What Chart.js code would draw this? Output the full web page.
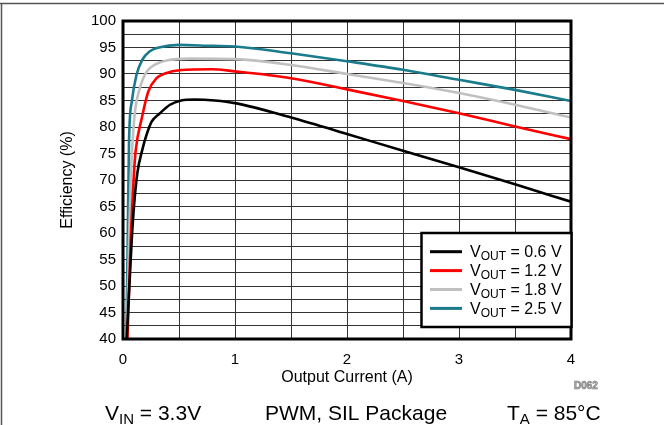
<!DOCTYPE html>
<html>
<head>
<meta charset="utf-8">
<script src="https://cdn.jsdelivr.net/npm/chart.js@4.4.0/dist/chart.umd.min.js"></script>
<style>
  html, body { margin: 0; padding: 0; background: #fff; }
</style>
</head>
<body>
<canvas id="effChart" width="664" height="425"></canvas>
<script>
// Output current (A) and efficiency (%)
const current06 = [0.033, 0.063, 0.078, 0.098, 0.128, 0.17, 0.21, 0.256, 0.33, 0.42, 0.52, 0.64, 0.82, 1.0, 1.5, 2.0, 2.5, 3.0, 3.5, 4.0];
const eff06 = [40, 52.5, 58.7, 65, 71.3, 75.5, 78.5, 81, 82.6, 84.2, 85, 85.2, 85, 84.5, 81.8, 78.7, 75.5, 72.4, 69.2, 65.9];

const current12 = [0.04, 0.069, 0.098, 0.113, 0.167, 0.226, 0.3, 0.375, 0.52, 0.79, 1.0, 1.5, 2.0, 2.5, 3.0, 3.5, 4.0];
const eff12 = [40, 58.7, 71.3, 75.5, 81.6, 86.7, 89.2, 90.1, 90.75, 90.9, 90.5, 89.2, 87.1, 84.9, 82.6, 80.1, 77.7];

const current18 = [0.035, 0.054, 0.071, 0.085, 0.107, 0.15, 0.21, 0.29, 0.4, 0.6, 1.0, 1.5, 2.0, 2.5, 3.0, 3.5, 4.0];
const eff18 = [40, 58.7, 71.3, 77, 83, 87.3, 90.4, 91.8, 92.6, 92.9, 92.8, 91.7, 90.0, 88.3, 86.4, 84.2, 81.8];

const current25 = [0.03, 0.042, 0.054, 0.08, 0.12, 0.17, 0.24, 0.32, 0.5, 0.8, 1.0, 1.5, 2.0, 2.5, 3.0, 3.5, 4.0];
const eff25 = [40, 58.7, 77.5, 85, 89.8, 92.6, 94.3, 95.0, 95.5, 95.3, 95.2, 93.9, 92.4, 90.8, 88.9, 87.0, 84.9];

const voutLabels = ['0.6 V', '1.2 V', '1.8 V', '2.5 V'];
const seriesColors = ['#000000', '#ff0000', '#c0c0c0', '#1a7b8c'];

const FONT = '"Liberation Sans", Arial, sans-serif';

function toPoints(xs, ys) {
    return xs.map((x, i) => ({ x: x, y: ys[i] }));
}

// text with a subscript part, e.g. V + OUT + " = 0.6 V"
function drawSub(ctx, x, y, base, sub, rest, size, subSize, drop) {
    ctx.font = size + 'px ' + FONT;
    ctx.fillText(base, x, y);
    x += ctx.measureText(base).width;
    ctx.font = subSize + 'px ' + FONT;
    ctx.fillText(sub, x, y + drop);
    x += ctx.measureText(sub).width;
    ctx.font = size + 'px ' + FONT;
    ctx.fillText(rest, x, y);
}

const decor = {
    id: 'decor',
    afterDraw(chart) {
        const ctx = chart.ctx;
        const a = chart.chartArea;
        ctx.save();

        // page frame lines
        ctx.strokeStyle = '#555';
        ctx.lineWidth = 1.5;
        ctx.beginPath();
        ctx.moveTo(0, 3.5);
        ctx.lineTo(664, 3.5);
        ctx.moveTo(1.5, 3.5);
        ctx.lineTo(1.5, 425);
        ctx.stroke();

        // plot frame
        ctx.strokeStyle = '#000';
        ctx.lineWidth = 3;
        ctx.strokeRect(a.left, a.top, a.right - a.left, a.bottom - a.top);

        // legend box
        const lx = 421.5, ly = 233, lw = 150, lh = 94;
        ctx.fillStyle = '#fff';
        ctx.fillRect(lx, ly, lw, lh);
        ctx.lineWidth = 2.5;
        ctx.strokeRect(lx, ly, lw, lh);
        ctx.textBaseline = 'alphabetic';
        ctx.textAlign = 'left';
        for (let i = 0; i < voutLabels.length; i++) {
            const yy = 251.7 + i * 18.9;
            ctx.strokeStyle = seriesColors[i];
            ctx.lineWidth = 3;
            ctx.beginPath();
            ctx.moveTo(430, yy);
            ctx.lineTo(462, yy);
            ctx.stroke();
            ctx.fillStyle = '#000';
            drawSub(ctx, 470, yy + 5.6, 'V', 'OUT', ' = ' + voutLabels[i], 16, 12, 2.7);
        }

        // conditions line under the chart
        ctx.fillStyle = '#000';
        drawSub(ctx, 105, 420, 'V', 'IN', ' = 3.3V', 21, 15, 4);
        ctx.font = '21px ' + FONT;
        ctx.fillText('PWM, SIL Package', 265, 420);
        drawSub(ctx, 507, 420, 'T', 'A', ' = 85°C', 21, 15, 4);

        // figure id
        ctx.font = 'bold 10px ' + FONT;
        ctx.fillStyle = '#b0b0b0';
        ctx.strokeStyle = '#777';
        ctx.lineWidth = 0.6;
        ctx.fillText('D062', 574, 389);
        ctx.strokeText('D062', 574, 389);

        ctx.restore();
    }
};

const ds = [
    toPoints(current06, eff06),
    toPoints(current12, eff12),
    toPoints(current18, eff18),
    toPoints(current25, eff25)
].map((pts, i) => ({
    label: 'VOUT = ' + voutLabels[i],
    data: pts,
    borderColor: seriesColors[i],
    borderWidth: 2.6,
    pointRadius: 0,
    fill: false,
    cubicInterpolationMode: 'monotone'
}));

new Chart(document.getElementById('effChart'), {
    type: 'line',
    data: { datasets: ds },
    options: {
        responsive: false,
        animation: false,
        layout: {
            padding: { left: 0, top: 21, right: 93, bottom: 36 }
        },
        plugins: {
            legend: { display: false },
            tooltip: { enabled: false }
        },
        scales: {
            x: {
                type: 'linear',
                min: 0,
                max: 4,
                afterFit(scale) { scale.height = 50; },
                border: { display: false },
                grid: { color: '#333', lineWidth: 1, drawTicks: false },
                ticks: {
                    stepSize: 0.5,
                    padding: 12,
                    color: '#000',
                    font: { family: FONT, size: 15 },
                    maxRotation: 0,
                    autoSkip: false,
                    callback: v => Number.isInteger(v) ? v : ''
                },
                title: {
                    display: true,
                    text: 'Output Current (A)',
                    color: '#000',
                    font: { family: FONT, size: 16 },
                    padding: { top: 0, bottom: 2 }
                }
            },
            y: {
                min: 40,
                max: 100,
                afterFit(scale) { scale.width = 123; },
                border: { display: false },
                grid: { color: '#333', lineWidth: 1, drawTicks: false },
                ticks: {
                    stepSize: 2.5,
                    padding: 7,
                    color: '#000',
                    font: { family: FONT, size: 15 },
                    autoSkip: false,
                    callback: v => v % 5 === 0 ? v : ''
                },
                title: {
                    display: true,
                    text: 'Efficiency (%)',
                    color: '#000',
                    font: { family: FONT, size: 16 },
                    padding: { top: 58, bottom: 0 }
                }
            }
        }
    },
    plugins: [decor]
});
</script>
</body>
</html>
